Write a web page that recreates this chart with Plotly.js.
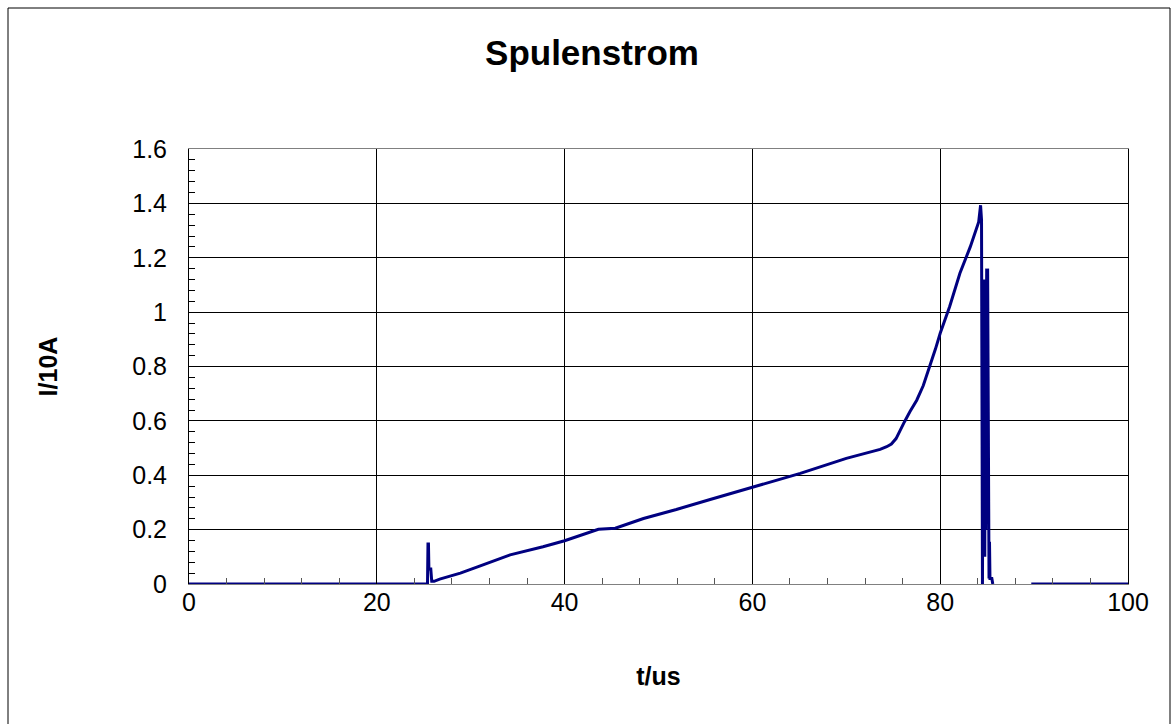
<!DOCTYPE html>
<html>
<head>
<meta charset="utf-8">
<script src="https://cdn.plot.ly/plotly-3.0.1.min.js"></script>
<style>
  html, body { margin: 0; padding: 0; background: #fff; }
  #chart { width: 1175px; height: 724px; }
</style>
</head>
<body>
<div id="chart"></div>
<script>
// Time in microseconds
const timeUs = [
  0, 5, 10, 15, 20, 25.4,
  25.45, 25.5, 25.55, 25.6, 25.75, 25.85, 26.1,
  26.7, 28.9, 30.8, 34.2, 37.7, 40.0, 43.6, 45.4, 48.4, 51.9, 55.5,
  60.0, 65.1, 70.0, 73.6, 74.3, 74.8, 75.3, 75.7, 76.2, 76.8, 77.5, 78.2, 78.9, 79.5, 80.0, 81.0,
  82.1, 83.2, 84.1, 84.3, 84.4, 84.5,
  84.6, 84.65, 84.7, 84.75, 84.8, 84.85, 84.95, 85.0, 85.05, 85.1,
  85.15, 85.2, 85.25, 85.3, 85.5, 85.6,
  87.0, 89.7, 95, 100
];
// Coil current in units of 10 A
const currentI10A = [
  0, 0, 0, 0, 0, 0,
  0.147, 0.147, 0.055, 0.055, 0.055, 0.01, 0.01,
  0.018, 0.04, 0.064, 0.107, 0.137, 0.159, 0.201, 0.205, 0.241, 0.274, 0.311,
  0.357, 0.407, 0.462, 0.495, 0.505, 0.515, 0.535, 0.56, 0.597, 0.635, 0.676, 0.73, 0.799, 0.865, 0.922, 1.02,
  1.143, 1.24, 1.332, 1.393, 1.34, 0,
  1.12, 0.1, 1.12, 0.1, 1.12, 0.2, 1.16, 0.3, 1.16, 0.47,
  0.155, 0.02, 0.155, 0.02, 0.02, 0,
  null, 0, 0, 0
];
const chartTitle = "Spulenstrom";
const xTitle = "t/us";
const yTitle = "I/10A";

const L = 189, R = 1128, T = 149, B = 584, W = 1175, H = 724;
const pw = R - L, ph = B - T;
const fx = px => (px - L) / pw;
const fy = py => (B - py) / ph;

const font = "Arial, 'Liberation Sans', sans-serif";

const trace = {
  x: timeUs,
  y: currentI10A,
  type: "scatter",
  mode: "lines",
  connectgaps: false,
  line: { color: "#000080", width: 3 },
  hoverinfo: "x+y"
};

const layout = {
  width: W,
  height: H,
  margin: { l: L, r: W - R, t: T, b: H - B, pad: 0 },
  paper_bgcolor: "#ffffff",
  plot_bgcolor: "#ffffff",
  showlegend: false,
  font: { family: font, color: "#000", size: 25 },
  title: {
    text: "<b>" + chartTitle + "</b>",
    font: { family: font, size: 35, color: "#000" },
    x: 592 / W, xref: "container", xanchor: "center",
    y: 1 - 53 / H, yref: "container", yanchor: "middle"
  },
  xaxis: {
    range: [0, 100],
    dtick: 20,
    tick0: 0,
    showgrid: true,
    gridcolor: "#000",
    gridwidth: 1,
    zeroline: false,
    showline: true,
    linecolor: "#808080",
    linewidth: 1,
    mirror: true,
    ticks: "inside",
    ticklen: 6,
    tickcolor: "#000",
    tickfont: { family: font, size: 25, color: "#000" },
    ticklabelstandoff: -4,
    minor: { dtick: 4, ticks: "inside", ticklen: 6, tickcolor: "#555", showgrid: false },
    title: {
      text: "<b>" + xTitle + "</b>",
      font: { family: font, size: 25, color: "#000" },
      standoff: 52
    },
    fixedrange: true
  },
  yaxis: {
    range: [0, 1.6],
    dtick: 0.2,
    tick0: 0,
    showgrid: true,
    gridcolor: "#000",
    gridwidth: 1,
    zeroline: false,
    showline: true,
    linecolor: "#000",
    linewidth: 1,
    mirror: true,
    ticks: "inside",
    ticklen: 6,
    tickcolor: "#000",
    tickfont: { family: font, size: 25, color: "#000" },
    ticklabelstandoff: 16,
    minor: { dtick: 0.04, ticks: "inside", ticklen: 6, tickcolor: "#000", showgrid: false },
    title: {
      text: "<b>" + yTitle + "</b>",
      font: { family: font, size: 25, color: "#000" },
      standoff: 67
    },
    fixedrange: true
  },
  shapes: [
    {
      type: "rect", xref: "paper", yref: "paper",
      x0: fx(8), x1: fx(1170), y0: fy(740), y1: fy(8),
      line: { color: "#000", width: 1 }, fillcolor: "rgba(0,0,0,0)", layer: "below"
    }
  ]
};

Plotly.newPlot("chart", [trace], layout, { displayModeBar: false, staticPlot: true });
</script>
</body>
</html>
